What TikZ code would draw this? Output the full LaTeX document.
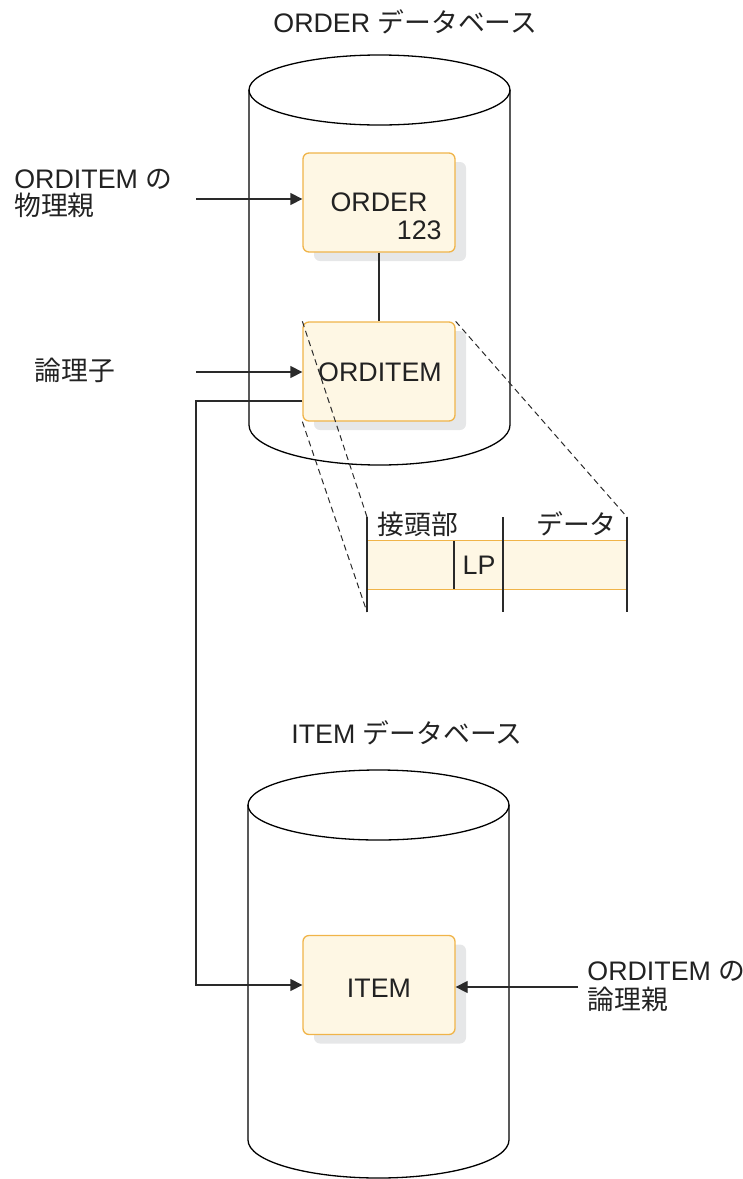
\documentclass[tikz,border=0pt]{standalone}
\usepackage{fontspec}
\setmainfont{Liberation Sans}
\newfontfamily\jp{Noto Sans CJK JP}
\usetikzlibrary{arrows.meta,shadows}
\definecolor{boxfill}{HTML}{FEF7E4}
\definecolor{boxline}{HTML}{F0B449}
\definecolor{shade}{HTML}{E6E7E8}
\definecolor{ink}{HTML}{222222}
\definecolor{lineclr}{HTML}{2A2A2A}
\begin{document}
\begin{tikzpicture}[x=0.5pt,y=-0.5pt,
  font=\fontsize{13.4}{14}\selectfont,
  seg/.style={draw=boxline, fill=boxfill, rounded corners=3pt,
    minimum width=76pt, minimum height=49.5pt, line width=0.65pt, inner sep=0pt,
    drop shadow={shadow xshift=5.5pt, shadow yshift=-4.5pt, fill=shade, opacity=1}},
  lbl/.style={inner sep=0pt, text=ink},
  conn/.style={draw=lineclr, line width=0.65pt},
  arr/.style={conn, -{Triangle[length=6pt,width=6pt]}},
  dashln/.style={draw=lineclr, line width=0.5pt, dash pattern=on 3pt off 2pt},
  cyl/.style={draw=black, line width=0.65pt}]
\useasboundingbox (0,0) rectangle (743,1179);

% cylinders
\draw[cyl] (379.5,90) ellipse [x radius=130.5, y radius=35];
\draw[cyl] (249,90) -- (249,425) arc[start angle=180, end angle=0, x radius=130.5, y radius=40] -- (510,90);
\draw[cyl] (378.5,805) ellipse [x radius=130.5, y radius=35];
\draw[cyl] (248,805) -- (248,1140) arc[start angle=180, end angle=0, x radius=130.5, y radius=38] -- (509,805);

% titles
\node[lbl, anchor=west] (t1) at (273,21.5) {ORDER {\jp データベース}};
\node[lbl, anchor=west] (t2) at (291,733) {ITEM {\jp データベース}};

% segments
\node[seg] (order) at (379,202.5) {};
\node[lbl] (ordertxt) at (379,202) {ORDER};
\node[lbl, anchor=east] (ordernum) at (442,230) {123};
\node[seg] (orditem) at (379,371.5) {};
\node[lbl] (orditemtxt) at (380,372) {ORDITEM};
\node[seg] (item) at (379,985) {};
\node[lbl] (itemtxt) at (379,988) {ITEM};

\draw[conn] (order.south) -- (orditem.north);

% left labels
\node[lbl, anchor=west, align=left, font=\fontsize{13.4}{13.5}\selectfont] (phys) at (14,193) {ORDITEM {\jp の}\\{\jp 物理親}};
\node[lbl, anchor=west] (child) at (34,370) {\jp 論理子};
\node[lbl, anchor=west, align=left, font=\fontsize{13.4}{14.5}\selectfont] (logp) at (587,986.5) {ORDITEM {\jp の}\\{\jp 論理親}};

\coordinate (a1) at (196,199);
\coordinate (a2) at (196,372);
\coordinate (c1) at (196,401);
\coordinate (a3) at (578,987);
\draw[arr] (a1) -- (a1 -| order.west);
\draw[arr] (a2) -- (a2 -| orditem.west);
\draw[arr] (c1 -| orditem.west) -- (c1) |- (item.west);
\draw[arr] (a3) -- (a3 -| item.east);

% record layout
\node[fill=boxfill, inner sep=0pt, minimum width=130pt, minimum height=24pt] (rec) at (497,565) {};
\draw[draw=boxline, line width=0.65pt] (rec.north west) -- (rec.north east);
\draw[draw=boxline, line width=0.65pt] (rec.south west) -- (rec.south east);
\coordinate (rTL) at (367,517);
\coordinate (rBL) at (367,612);
\coordinate (rTM) at (503,517);
\coordinate (rBM) at (503,612);
\coordinate (rTR) at (627,517);
\coordinate (rBR) at (627,612);
\coordinate (dT) at (454,541);
\coordinate (dB) at (454,589);
\draw[conn] (rTL) -- (rBL);
\draw[conn] (rTM) -- (rBM);
\draw[conn] (rTR) -- (rBR);
\draw[conn] (dT) -- (dB);
\node[lbl] (lp) at (479,565) {LP};
\node[lbl, anchor=west] (pref) at (377,524) {\jp 接頭部};
\node[lbl, anchor=east] (data) at (617,524) {\jp データ};

\draw[dashln] (orditem.north west) -- (rTL);
\draw[dashln] (orditem.south west) -- (rBL);
\draw[dashln] (orditem.north east) -- (rTR);
\end{tikzpicture}
\end{document}
